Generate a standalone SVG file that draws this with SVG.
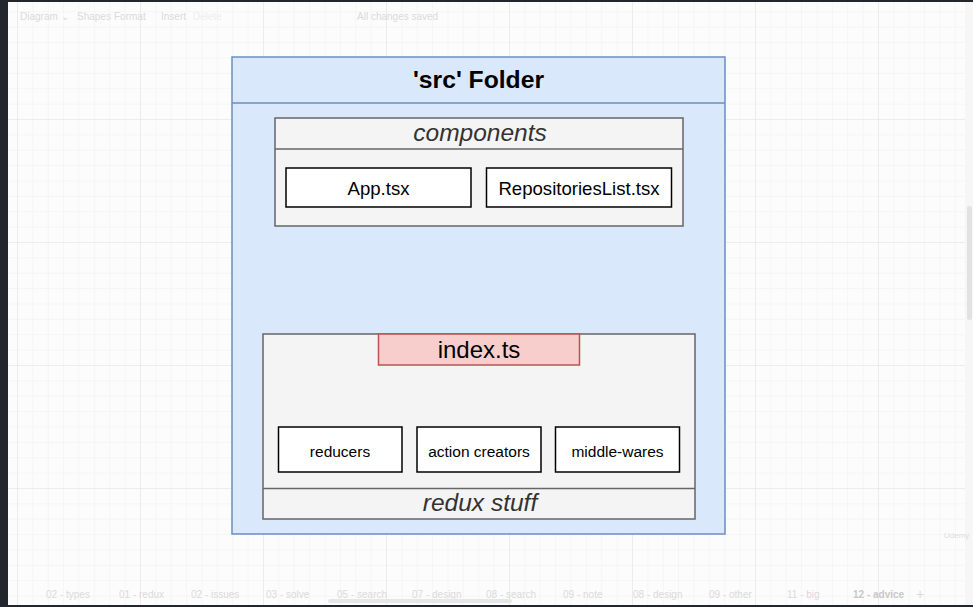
<svg xmlns="http://www.w3.org/2000/svg" width="973" height="607" viewBox="0 0 973 607">
<defs>
<pattern id="minor" x="17" y="-4" width="15.375" height="15.375" patternUnits="userSpaceOnUse">
<path d="M0 0V15.375M0 0H15.375" fill="none" stroke="#f0f0f0" stroke-width="1"/>
</pattern>
<pattern id="major" x="17" y="-4" width="123" height="123" patternUnits="userSpaceOnUse">
<path d="M0 0V123M0 0H123" fill="none" stroke="#e2e2e2" stroke-width="1"/>
</pattern>
</defs>
<style>
.ui{font-family:"Liberation Sans",Arial,sans-serif;font-size:10px;fill:#dadada}
.lbl{font-family:"Liberation Sans",Arial,sans-serif;fill:#000;text-anchor:middle}
.ttl{font-family:"Liberation Sans",Arial,sans-serif;font-style:italic;fill:#333;text-anchor:middle;font-size:24.5px}
.box{fill:#fff;stroke:#000;stroke-width:1.5}
.grey{fill:#f4f4f4;stroke:#666;stroke-width:1.5}
</style>
<rect width="973" height="607" fill="#fcfcfc"/>
<rect width="973" height="607" fill="url(#minor)"/>
<rect width="973" height="607" fill="url(#major)"/>
<rect x="0" y="0" width="973" height="2" fill="#23262d"/>
<rect x="0" y="0" width="8" height="607" fill="#23262d"/>
<rect x="0" y="605" width="973" height="2" fill="#23262d"/>
<rect x="965" y="2" width="8" height="603" fill="#f6f6f6"/>
<rect x="967" y="206" width="5" height="114" rx="2.5" fill="#e2e2e2"/>
<g id="chrome">
<text class="ui" x="20" y="20">Diagram ⌄</text>
<text class="ui" x="77" y="20">Shapes</text>
<text class="ui" x="114" y="20">Format</text>
<text class="ui" x="161" y="20">Insert</text>
<text class="ui" x="193" y="20" style="fill:#eeeeee">Delete</text>
<text class="ui" x="357" y="20">All changes saved</text>
<text class="ui" x="46" y="598">02 - types</text>
<text class="ui" x="119" y="598">01 - redux</text>
<text class="ui" x="191" y="598">02 - issues</text>
<text class="ui" x="266" y="598">03 - solve</text>
<text class="ui" x="337" y="598">05 - search</text>
<text class="ui" x="412" y="598">07 - design</text>
<text class="ui" x="486" y="598">08 - search</text>
<text class="ui" x="563" y="598">09 - note</text>
<text class="ui" x="633" y="598">08 - design</text>
<text class="ui" x="709" y="598">09 - other</text>
<text class="ui" x="787" y="598">11 - big</text>
<text class="ui" x="853" y="598" style="font-weight:bold;fill:#c8c8c8">12 - advice</text>
<text class="ui" x="916" y="599" style="font-size:14px">+</text>
<rect x="328" y="599" width="184" height="4" rx="2" fill="#e6e6e6"/>
<text class="ui" x="944" y="538" style="font-size:8px;fill:#ddd">Udemy</text>
</g>
<g id="src-folder">
<rect x="232" y="57" width="493" height="477" fill="#dae8fc" stroke="#6c8ebf" stroke-width="1.5"/>
<line x1="232" y1="103" x2="725" y2="103" stroke="#6c8ebf" stroke-width="1.5"/>
<text class="lbl" x="478.5" y="88" style="font-size:24.7px;font-weight:bold">'src' Folder</text>
</g>
<g id="components">
<rect class="grey" x="275" y="118" width="408" height="108"/>
<line x1="275" y1="149" x2="683" y2="149" stroke="#666" stroke-width="1.5"/>
<text class="ttl" x="480" y="141">components</text>
</g>
<g id="app-tsx">
<rect class="box" x="286" y="168" width="185" height="39"/>
<text class="lbl" x="378.5" y="195" style="font-size:18.6px">App.tsx</text>
</g>
<g id="repositories-list">
<rect class="box" x="486.5" y="168" width="185" height="39"/>
<text class="lbl" x="579" y="195" style="font-size:18.6px">RepositoriesList.tsx</text>
</g>
<g id="redux-stuff">
<rect class="grey" x="263" y="334" width="432" height="185"/>
<line x1="263" y1="488.5" x2="695" y2="488.5" stroke="#666" stroke-width="1.5"/>
<text class="ttl" x="480" y="511">redux stuff</text>
</g>
<g id="index-ts">
<rect x="378.5" y="334" width="201" height="31" fill="#f8cecc" stroke="#b85450" stroke-width="1.5"/>
<text class="lbl" x="479" y="358" style="font-size:24px">index.ts</text>
</g>
<g id="reducers">
<rect class="box" x="278.5" y="427" width="123.5" height="45"/>
<text class="lbl" x="340" y="457" style="font-size:15.5px">reducers</text>
</g>
<g id="action-creators">
<rect class="box" x="417" y="427" width="124" height="45"/>
<text class="lbl" x="479" y="457" style="font-size:15.5px">action creators</text>
</g>
<g id="middle-wares">
<rect class="box" x="555.5" y="427" width="124" height="45"/>
<text class="lbl" x="617.5" y="457" style="font-size:15.5px">middle-wares</text>
</g>
<g id="connectors"></g>
</svg>
